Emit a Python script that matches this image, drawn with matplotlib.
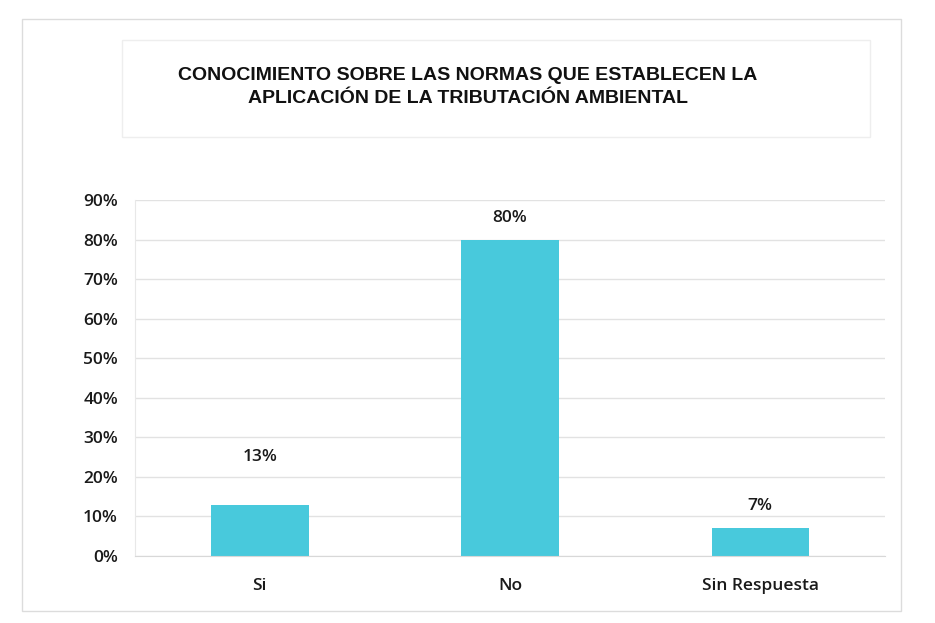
import matplotlib.pyplot as plt
from matplotlib.patches import Rectangle

categorias = ["Si", "No", "Sin Respuesta"]
porcentajes = [13, 80, 7]
etiquetas = ["13%", "80%", "7%"]
yticks = [0, 10, 20, 30, 40, 50, 60, 70, 80, 90]

# separacion de cada etiqueta sobre su barra (en puntos porcentuales)
desplaz = [10, 3.5, 3.5]

fig = plt.figure(figsize=(9.35, 6.23), dpi=100)
fig.patch.set_facecolor("white")

# marco exterior y recuadro del titulo
fig.patches.append(Rectangle((0.024, 0.02), 0.94, 0.95, transform=fig.transFigure,
                             fill=False, edgecolor="#dcdcdc", linewidth=1.0))
fig.patches.append(Rectangle((0.13, 0.78), 0.80, 0.155, transform=fig.transFigure,
                             fill=False, edgecolor="#eeeeee", linewidth=1.0))

fig.text(0.5, 0.879, "CONOCIMIENTO SOBRE LAS NORMAS QUE ESTABLECEN LA",
         ha="center", va="center", fontsize=14, fontweight="bold",
         family="Liberation Sans", color="#111111")
fig.text(0.5, 0.842, "APLICACIÓN DE LA TRIBUTACIÓN AMBIENTAL",
         ha="center", va="center", fontsize=14, fontweight="bold",
         family="Liberation Sans", color="#111111")

ax = fig.add_axes([0.144, 0.1075, 0.803, 0.5715])
x = range(len(categorias))
ax.bar(x, porcentajes, width=0.39, color="#48c9dc", zorder=2)

for xi, v, t, d in zip(x, porcentajes, etiquetas, desplaz):
    ax.text(xi, v + d, t, ha="center", va="bottom", fontsize=12.5,
            family="Open Sans", fontweight="semibold", color="#1a1a1a")

ax.set_xlim(-0.5, 2.5)
ax.set_ylim(0, 90)
ax.set_yticks(yticks)
ax.set_yticklabels([f"{t}%" for t in yticks], fontsize=12.5, family="Open Sans",
                   fontweight="semibold", color="#1a1a1a")
ax.set_xticks(list(x))
ax.set_xticklabels(categorias, fontsize=12.5, family="Open Sans",
                   fontweight="semibold", color="#1a1a1a")
ax.tick_params(axis="y", length=0, pad=12)
ax.tick_params(axis="x", length=0, pad=16)
ax.grid(axis="y", color="#e2e2e2", linewidth=1.0, zorder=0)
for s in ["top", "right"]:
    ax.spines[s].set_visible(False)
ax.spines["left"].set_color("#e8e8e8")
ax.spines["bottom"].set_color("#d8d8d8")

fig.savefig("out.png", dpi=100)
